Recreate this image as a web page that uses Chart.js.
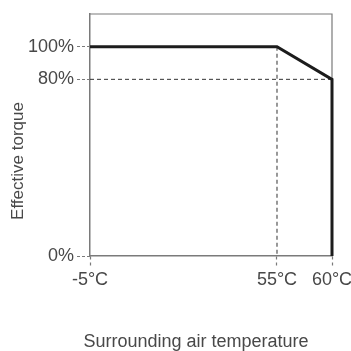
<!DOCTYPE html>
<html>
<head>
<meta charset="utf-8">
<script src="https://cdn.jsdelivr.net/npm/chart.js@4/dist/chart.umd.min.js"></script>
<style>
html,body{margin:0;padding:0;background:#fff;}
#wrap{width:351px;height:351px;}
</style>
</head>
<body>
<div id="wrap"><canvas id="c" width="351" height="351"></canvas></div>
<script>
// ---- data ----
const temperatures = [-5, 55, 60, 60];        // °C
const torque = [100, 100, 80, 0];             // %
const xTickValues = [-5, 55, 60];
const yTickValues = [0, 80, 100];
const xTitle = 'Surrounding air temperature';
const yTitle = 'Effective torque';

// ---- schematic (non-linear) axis layout: value -> fraction of axis ----
const xBreaks = [[-5, 0], [55, 0.7727], [60, 1]];
const yBreaks = [[0, 0], [80, 0.730], [100, 0.865], [120, 1]];

class PiecewiseScale extends Chart.LinearScale {
  _frac(v) {
    const b = this.options.breaks;
    if (v <= b[0][0]) return b[0][1] + (v - b[0][0]) * (b[1][1] - b[0][1]) / (b[1][0] - b[0][0]);
    for (let i = 1; i < b.length; i++) {
      if (v <= b[i][0]) {
        const [v0, f0] = b[i - 1], [v1, f1] = b[i];
        return f0 + (v - v0) * (f1 - f0) / (v1 - v0);
      }
    }
    const n = b.length;
    return b[n - 1][1] + (v - b[n - 1][0]) * (b[n - 1][1] - b[n - 2][1]) / (b[n - 1][0] - b[n - 2][0]);
  }
  getPixelForValue(value) {
    if (value === null || value === undefined) return NaN;
    return this.getPixelForDecimal(this._frac(value));
  }
  getValueForPixel(pixel) {
    const f = this.getDecimalForPixel(pixel);
    const b = this.options.breaks;
    for (let i = 1; i < b.length; i++) {
      if (f <= b[i][1]) {
        const [v0, f0] = b[i - 1], [v1, f1] = b[i];
        return v0 + (f - f0) * (v1 - v0) / (f1 - f0);
      }
    }
    return b[b.length - 1][0];
  }
}
PiecewiseScale.id = 'piecewise';
PiecewiseScale.defaults = Chart.LinearScale.defaults;
Chart.register(PiecewiseScale);

const FONT = "'Liberation Sans', Arial, Helvetica, sans-serif";
const TEXT = '#484848';
const AXIS = '#7a7a7a';

const xyLine = temperatures.map((t, i) => ({x: t, y: torque[i]}));
const ref80 = [{x: temperatures[0], y: torque[2]}, {x: temperatures[2], y: torque[2]}];
const ref55 = [{x: temperatures[1], y: torque[1]}, {x: temperatures[1], y: 0}];

const framePlugin = {
  id: 'frame',
  beforeDatasetsDraw(chart) {
    const {ctx, chartArea: a} = chart;
    ctx.save();
    ctx.strokeStyle = AXIS;
    ctx.lineWidth = 1.2;
    ctx.beginPath();
    ctx.moveTo(a.left, a.top);
    ctx.lineTo(a.right, a.top);
    ctx.lineTo(a.right, a.bottom);
    ctx.stroke();
    ctx.restore();
  },
  afterDraw(chart) {
    const {ctx} = chart;
    ctx.save();
    ctx.fillStyle = TEXT;
    ctx.font = '18px ' + FONT;
    ctx.textAlign = 'center';
    ctx.textBaseline = 'middle';
    ctx.fillText(xTitle, 196, 342);
    ctx.font = '17px ' + FONT;
    ctx.translate(18, 161);
    ctx.rotate(-Math.PI / 2);
    ctx.fillText(yTitle, 0, 0);
    ctx.restore();
  }
};

new Chart(document.getElementById('c'), {
  type: 'line',
  data: {
    datasets: [
      {data: xyLine, borderColor: '#1c1c1c', borderWidth: 3, pointRadius: 0, fill: false, clip: false, tension: 0, order: 0},
      {data: ref80, borderColor: '#333', borderWidth: 1, borderDash: [4, 3], pointRadius: 0, fill: false, clip: false, order: 1},
      {data: ref55, borderColor: '#777', borderWidth: 1.5, borderDash: [4, 3], pointRadius: 0, fill: false, clip: false, order: 1}
    ]
  },
  options: {
    responsive: false,
    animation: false,
    events: [],
    layout: {padding: {top: 14, right: 19, left: 0, bottom: 0}},
    plugins: {legend: {display: false}, tooltip: {enabled: false}},
    scales: {
      x: {
        type: 'piecewise',
        breaks: xBreaks,
        min: -5, max: 60,
        afterBuildTicks: s => { s.ticks = xTickValues.map(v => ({value: v})); },
        afterFit: s => { s.height = 95; s.paddingLeft = 0; s.paddingRight = 0; },
        grid: {drawOnChartArea: false, drawTicks: true, tickLength: 10, tickColor: AXIS, tickWidth: 1.2, tickBorderDash: [3, 3]},
        border: {display: true, color: AXIS, width: 1.5},
        ticks: {autoSkip: false, maxRotation: 0, padding: 3, color: TEXT, font: {family: FONT, size: 18},
                callback: v => v + '°C'}
      },
      y: {
        type: 'piecewise',
        breaks: yBreaks,
        min: 0, max: 120,
        afterBuildTicks: s => { s.ticks = yTickValues.map(v => ({value: v})); },
        afterFit: s => { s.width = 90; s.paddingTop = 0; s.paddingBottom = 0; },
        grid: {drawOnChartArea: false, drawTicks: true, tickLength: 13, tickColor: AXIS, tickWidth: 1.2, tickBorderDash: [3, 2]},
        border: {display: true, color: AXIS, width: 1.5},
        ticks: {autoSkip: false, padding: 3, color: TEXT, font: {family: FONT, size: 18},
                callback: v => v + '%'}
      }
    }
  },
  plugins: [framePlugin]
});
</script>
</body>
</html>
